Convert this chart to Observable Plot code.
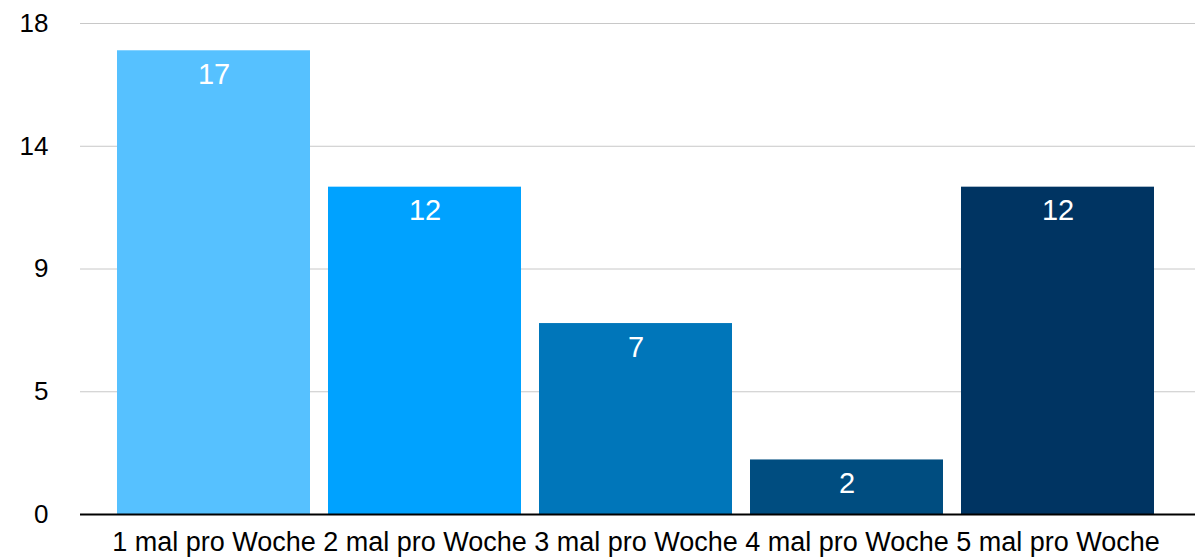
<!DOCTYPE html>
<html>
<head>
<meta charset="utf-8">
<script src="https://cdn.jsdelivr.net/npm/d3@7"></script>
<script src="https://cdn.jsdelivr.net/npm/@observablehq/plot@0.6"></script>
<style>
  html, body { margin: 0; padding: 0; background: #fff; }
  svg { display: block; }
</style>
</head>
<body>
<div id="chart"></div>
<script>
const categories = ["1 mal pro Woche", "2 mal pro Woche", "3 mal pro Woche", "4 mal pro Woche", "5 mal pro Woche"];
const values = [17, 12, 7, 2, 12];
const colors = ["#56c1ff", "#00a2ff", "#0076ba", "#004d80", "#003462"];
const yTicks = [0, 4.5, 9, 13.5, 18];

const data = categories.map((c, i) => ({category: c, value: values[i]}));
const font = "'Liberation Sans', Arial, Helvetica, sans-serif";

const chart = Plot.plot({
  width: 1204,
  height: 559,
  marginLeft: 80,
  marginRight: 9,
  marginTop: 23,
  marginBottom: 45,
  style: {fontFamily: font, fontSize: "26px", color: "#000", background: "#fff"},
  x: {domain: categories, range: [79, 1191], paddingInner: 0.0864, paddingOuter: 0.175, label: null},
  y: {domain: [0, 18], label: null},
  color: {domain: categories, range: colors},
  marks: [
    Plot.ruleY(yTicks, {stroke: "#c8c8c8", strokeWidth: 1}),
    Plot.barY(data, {x: "category", y: "value", fill: "category"}),
    Plot.ruleY([0], {stroke: "#000", strokeWidth: 2}),
    Plot.text(data, {x: "category", y: "value", text: d => String(d.value), fill: "#fff", dy: 24, fontSize: 29}),
    Plot.axisY({ticks: yTicks, tickFormat: d => String(Math.round(d)), tickSize: 0, tickPadding: 32, fontSize: 26, label: null}),
    Plot.axisX({tickSize: 0, tickPadding: 17, fontSize: 27, label: null})
  ]
});
document.getElementById("chart").appendChild(chart);
</script>
</body>
</html>
